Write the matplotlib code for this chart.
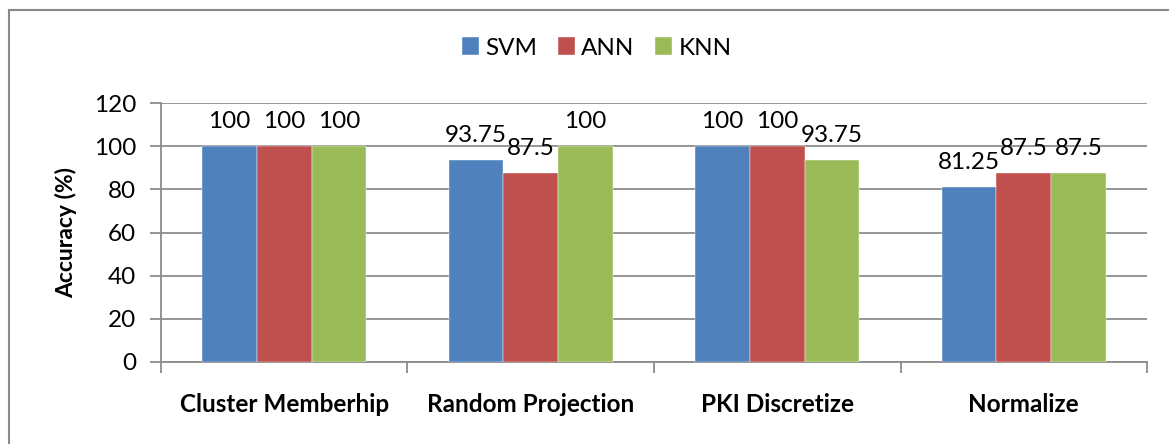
import matplotlib

matplotlib.use("Agg")
import matplotlib.patches as mpatches  # noqa: E402
import matplotlib.pyplot as plt  # noqa: E402
import numpy as np  # noqa: E402

CATEGORIES = ["Cluster Memberhip", "Random Projection", "PKI Discretize", "Normalize"]
SERIES = ["SVM", "ANN", "KNN"]
SVM = [100, 93.75, 100, 81.25]
ANN = [100, 87.5, 100, 87.5]
KNN = [100, 100, 93.75, 87.5]
COLORS = ["#4F81BD", "#C0504D", "#9BBB59"]
YTICKS = [0, 20, 40, 60, 80, 100, 120]

GRID = "#8c8c8c"
FONT = ["Lato", "DejaVu Sans"]

plt.rcParams["font.family"] = FONT

fig = plt.figure(figsize=(11.69, 4.44), dpi=100)
ax = fig.add_axes([0.1377, 0.1847, 0.9812 - 0.1377, 0.768 - 0.1847])

# chart border
fig.patches.append(
    mpatches.Rectangle(
        (9 / 1169, -0.1), 1.2, 0.1 + (1 - 10 / 444), transform=fig.transFigure,
        fill=False, edgecolor="#8a8a8a", lw=1.5, zorder=0,
    )
)

x = np.arange(len(CATEGORIES))
w = 1 / 4.5
for k, (vals, name, col) in enumerate(zip([SVM, ANN, KNN], SERIES, COLORS)):
    pos = x + (k - 1) * w
    ax.bar(pos, vals, width=w, color=col, label=name, zorder=3,
           edgecolor="white", linewidth=0.3)
    for xp, v in zip(pos, vals):
        ax.annotate(f"{v:g}", (xp, v), xytext=(0, 10), textcoords="offset points",
                    ha="center", va="bottom", fontsize=17.5, color="black", zorder=4)

ax.set_ylim(0, 120)
ax.set_xlim(-0.5, len(CATEGORIES) - 0.5)
ax.set_yticks(YTICKS)
ax.set_yticklabels([str(t) for t in YTICKS], fontsize=17.5)
ax.yaxis.grid(True, color=GRID, lw=1.3, zorder=0)
ax.set_axisbelow(True)

ax.set_xticks(x)
ax.set_xticklabels(CATEGORIES, fontsize=17.5, fontweight="bold")
ax.tick_params(axis="x", which="major", length=0, pad=22)
ax.set_xticks(np.arange(-0.5, len(CATEGORIES)), minor=True)
ax.tick_params(axis="x", which="minor", length=8, width=1.3, color=GRID, direction="out")
ax.tick_params(axis="y", length=8, width=1.3, color=GRID, direction="out", pad=10)

for side in ("top", "right"):
    ax.spines[side].set_visible(False)
for side in ("left", "bottom"):
    ax.spines[side].set_color(GRID)
    ax.spines[side].set_linewidth(1.3)

ax.set_ylabel("Accuracy (%)", fontsize=16.5, fontweight="bold", labelpad=12)

fig.legend(loc="center", bbox_to_anchor=(597 / 1169, 1 - 48 / 444), ncol=3,
           frameon=False, fontsize=17.5, handlelength=0.7, handleheight=0.7,
           handletextpad=0.25, columnspacing=0.85)

fig.savefig("out.png", dpi=100)
